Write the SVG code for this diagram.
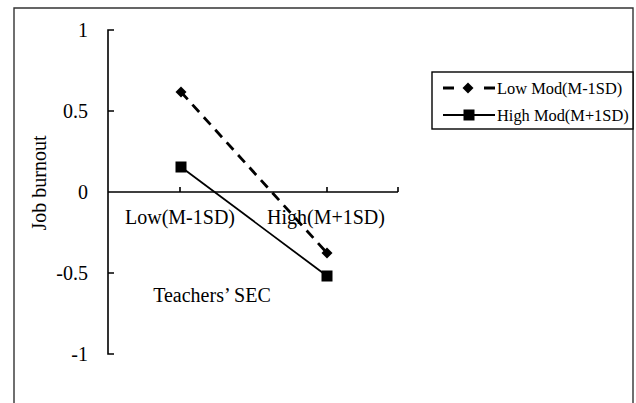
<svg xmlns="http://www.w3.org/2000/svg" width="636" height="403" viewBox="0 0 636 403">
  <style>
    .frame { fill: none; stroke: #333; stroke-width: 1.4; }
    .axis { fill: none; stroke: #000; stroke-width: 1.6; }
    .lbl { font-family: "Liberation Serif", "Times New Roman", serif; font-size: 20px; fill: #000; }
    .tick { text-anchor: end; }
    .mid { text-anchor: middle; }
    .leg { font-family: "Liberation Serif", "Times New Roman", serif; font-size: 16.4px; fill: #000; }
    .dash { fill: none; stroke: #000; stroke-width: 2.8; stroke-dasharray: 10 7; }
    .seg { fill: none; stroke: #000; stroke-width: 2.8; }
    .solid { fill: none; stroke: #000; stroke-width: 1.8; }
  </style>
  <defs>
    <path id="dia" d="M0,-5.5 L5.5,0 L0,5.5 L-5.5,0 Z" fill="#000"/>
    <rect id="sq" x="-5.5" y="-5.5" width="11" height="11" fill="#000"/>
  </defs>

  <rect width="636" height="403" fill="#fff"/>
  <!-- chart area border (bottom edge runs past the page) -->
  <path class="frame" d="M14,410 L14,8 L633,8 L633,410"/>

  <!-- axes -->
  <g id="axes">
    <path class="axis" d="M114,30 L108,30 L108,354 L114,354 M108,111 L114,111 M108,273 L114,273"/>
    <path class="axis" d="M108,192 L398,192 M180,192 L180,187 M327,192 L327,187 M398,192 L398,187"/>
  </g>

  <g id="y-labels" class="lbl tick">
    <text x="88" y="37">1</text>
    <text x="88" y="118">0.5</text>
    <text x="88" y="199">0</text>
    <text x="88" y="280">-0.5</text>
    <text x="88" y="361">-1</text>
  </g>

  <g id="x-labels" class="lbl mid">
    <text x="180" y="224">Low(M-1SD)</text>
    <text x="326" y="224">High(M+1SD)</text>
  </g>

  <text id="x-title" class="lbl mid" x="212" y="302">Teachers’ SEC</text>
  <text id="y-title" class="lbl mid" transform="translate(46,183) rotate(-90)" font-size="21">Job burnout</text>

  <!-- data series -->
  <g id="connectors">
    <path class="dash" d="M181,92 L327,253"/>
    <path class="solid" d="M181,167 L327,276"/>
  </g>
  <g id="low-mod">
    <use href="#dia" x="181" y="92"/>
    <use href="#dia" x="327" y="253"/>
  </g>
  <g id="high-mod">
    <use href="#sq" x="181" y="167"/>
    <use href="#sq" x="327" y="276"/>
  </g>

  <!-- legend -->
  <g id="legend">
    <rect x="432" y="72" width="201" height="57" fill="#fff" stroke="#000" stroke-width="1.4"/>
    <path class="seg" d="M443,88 L454,88 M484,88 L495,88"/>
    <use href="#dia" x="468" y="88"/>
    <text class="leg" x="497" y="94">Low Mod(M-1SD)</text>
    <path class="solid" d="M443,115 L495,115"/>
    <use href="#sq" x="469" y="115"/>
    <text class="leg" x="497" y="121">High Mod(M+1SD)</text>
  </g>
</svg>
